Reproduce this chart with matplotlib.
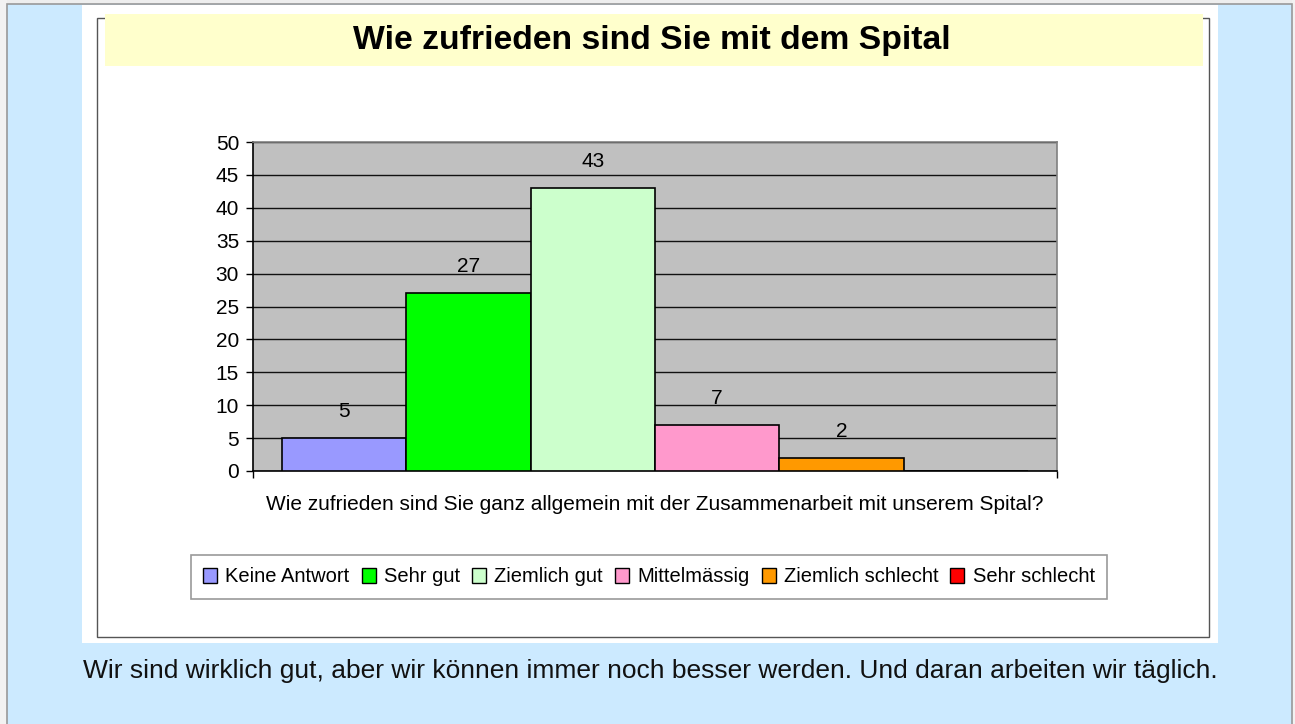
import matplotlib
matplotlib.use("Agg")
import matplotlib.pyplot as plt
from matplotlib.patches import Rectangle

plt.rcParams['font.family'] = ['Liberation Sans', 'DejaVu Sans']

# data
categories = ["Keine Antwort", "Sehr gut", "Ziemlich gut", "Mittelmässig",
              "Ziemlich schlecht", "Sehr schlecht"]
values = [5, 27, 43, 7, 2, 0]
colors = ["#9999ff", "#00ff00", "#ccffcc", "#ff99cc", "#ff9900", "#ff0000"]
y_ticks = [0, 5, 10, 15, 20, 25, 30, 35, 40, 45, 50]

title = "Wie zufrieden sind Sie mit dem Spital"
question = "Wie zufrieden sind Sie ganz allgemein mit der Zusammenarbeit mit unserem Spital?"
footer = "Wir sind wirklich gut, aber wir können immer noch besser werden. Und daran arbeiten wir täglich."

W, H = 1295, 724
fig = plt.figure(figsize=(W / 100, H / 100), dpi=100, facecolor="#cceaff")


def box(x0, y0, x1, y1, **kw):
    # rectangle given in pixel coords (top-left origin), kept behind the axes
    r = Rectangle((x0 / W, 1 - y1 / H), (x1 - x0) / W, (y1 - y0) / H,
                  transform=fig.transFigure, zorder=-5, **kw)
    fig.patches.append(r)


# page frame
box(0, 0, W, 4, facecolor="#eeeeee", edgecolor="none")
box(0, 0, 7, H, facecolor="#f2f2f2", edgecolor="none")
box(1292, 0, W, H, facecolor="#f2f2f2", edgecolor="none")
box(7, 4, 1292, H + 2, facecolor="none", edgecolor="#999999", lw=1.2)

# white panel, chart border and yellow title band
box(82, 5, 1218, 643, facecolor="white", edgecolor="none")
box(97, 18, 1209, 637, facecolor="none", edgecolor="#555555", lw=1)
box(105, 14, 1203, 66, facecolor="#ffffcc", edgecolor="none")

fig.text(652 / W, 1 - 41 / H, title, ha="center", va="center",
         fontsize=24.3, fontweight="bold")
fig.text(650 / W, 1 - 671 / H, footer, ha="center", va="center",
         fontsize=19, color="#111111")

ax = fig.add_axes([253 / W, 1 - 471 / H, (1057 - 253) / W, (471 - 142) / H])
ax.set_zorder(5)
ax.set_facecolor("#c0c0c0")

x = list(range(len(categories)))
bars = ax.bar(x, values, width=1.0, color=colors, edgecolor="black",
              linewidth=1.2, zorder=3)

for xi, v in zip(x, values):
    if v > 0:
        ax.annotate(str(v), (xi, v), xytext=(0, 19), textcoords="offset points",
                    ha="center", va="center", fontsize=15)

ax.set_ylim(0, 50)
ax.set_yticks(y_ticks)
ax.tick_params(axis="y", labelsize=15, length=5, width=1, pad=5)
ax.yaxis.grid(True, color="#111111", linewidth=1.0, zorder=1)
ax.set_axisbelow(True)

xmin, xmax = -0.733, 5.733
ax.set_xlim(xmin, xmax)
ax.set_xticks([xmin, xmax])
ax.set_xticklabels(["", ""])
ax.tick_params(axis="x", length=5, width=1)

ax.spines["left"].set_color("black")
ax.spines["bottom"].set_color("black")
ax.spines["top"].set_color("#808080")
ax.spines["right"].set_color("#808080")
for s in ax.spines.values():
    s.set_linewidth(1.2)

ax.set_xlabel(question, fontsize=15, labelpad=9)

leg = fig.legend(bars, categories, loc="center", bbox_to_anchor=(649 / W, 1 - 577 / H),
                 ncol=6, fontsize=14.5, frameon=True, fancybox=False,
                 handlelength=0.7, handleheight=0.7, handletextpad=0.4,
                 columnspacing=0.6, borderpad=0.6, borderaxespad=0)
leg.set_zorder(6)
leg.get_frame().set_edgecolor("#808080")
leg.get_frame().set_linewidth(1.2)
for h in leg.legend_handles:
    h.set_linewidth(1.0)

fig.savefig("out.png", dpi=100, facecolor=fig.get_facecolor())
